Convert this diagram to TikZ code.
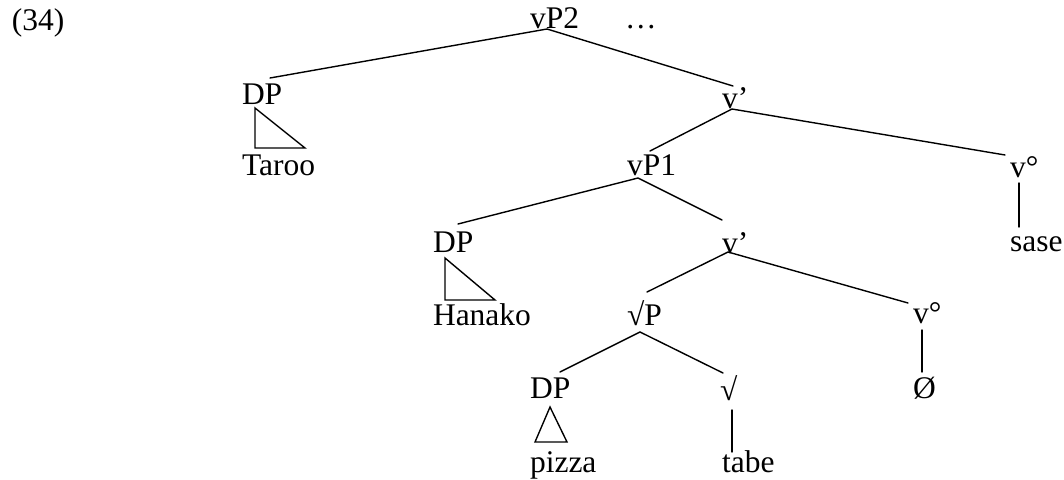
\documentclass[tikz,border=0pt]{standalone}
\usepackage{fontspec}
\setmainfont{Liberation Serif}
\begin{document}
\begin{tikzpicture}[x=1pt,y=-1pt,
  lbl/.style={anchor=base west, inner sep=0pt, outer sep=0pt, font=\fontsize{31.5}{36}\selectfont},
  edge/.style={line width=1.4pt, line cap=round},
  tri/.style={line width=1.4pt, line join=miter}]
\useasboundingbox (0,0) rectangle (1064,479);
% labels
\node[lbl] (ex) at (12,30) {(34)};
\node[lbl] (vPtwo) at (530,28) {vP2};
\node[lbl] (dots) at (625,28) {…};
\node[lbl] (dpA) at (242,104) {DP};
\node[lbl] (taroo) at (242,175) {Taroo};
\node[lbl] (vbarA) at (722,108) {v’};
\node[lbl] (vdegA) at (1010,177) {v°};
\node[lbl] (sase) at (1010,251) {sase};
\node[lbl] (vPone) at (627,175) {vP1};
\node[lbl] (dpB) at (433,252) {DP};
\node[lbl] (hanako) at (433,325) {Hanako};
\node[lbl] (vbarB) at (722,253) {v’};
\node[lbl] (rootP) at (627,325) {√P};
\node[lbl] (vdegB) at (913,323) {v°};
\node[lbl] (dpC) at (530,398) {DP};
\node[lbl] (root) at (720,400) {√};
\node[lbl] (empty) at (913,398) {Ø};
\node[lbl] (pizza) at (530,472) {pizza};
\node[lbl] (tabe) at (722,472) {tabe};
% connector end points
\coordinate (vPtwo-b) at (547,29);
\coordinate (dpA-t) at (270,78);
\coordinate (vbarA-t) at (733,86);
\coordinate (vbarA-b) at (732,109);
\coordinate (vPone-t) at (650,151);
\coordinate (vdegA-t) at (1005,155);
\coordinate (vPone-b) at (638,178);
\coordinate (dpB-t) at (458,224);
\coordinate (vbarB-t) at (722,220);
\coordinate (vbarB-b) at (728,252);
\coordinate (rootP-t) at (647,292);
\coordinate (vdegB-t) at (908,303);
\coordinate (rootP-b) at (640,332);
\coordinate (dpC-t) at (560,372);
\coordinate (root-t) at (723,373);
\coordinate (vdegA-b) at (1019,183);
\coordinate (sase-t) at (1019,227);
\coordinate (vdegB-b) at (922,330);
\coordinate (empty-t) at (922,372);
\coordinate (root-b) at (732,410);
\coordinate (tabe-t) at (732,452);
% edges
\draw[edge] (dpA-t) -- (vPtwo-b) -- (vbarA-t);
\draw[edge] (vPone-t) -- (vbarA-b) -- (vdegA-t);
\draw[edge] (dpB-t) -- (vPone-b) -- (vbarB-t);
\draw[edge] (rootP-t) -- (vbarB-b) -- (vdegB-t);
\draw[edge] (dpC-t) -- (rootP-b) -- (root-t);
\draw[edge] (vdegA-b) -- (sase-t);
\draw[edge] (vdegB-b) -- (empty-t);
\draw[edge] (root-b) -- (tabe-t);
% triangles
\draw[tri] (255,108) -- (255,148) -- (305,148) -- cycle;
\draw[tri] (445,258) -- (445,300) -- (495,300) -- cycle;
\draw[tri] (550,407) -- (535,442) -- (567,442) -- cycle;
\end{tikzpicture}
\end{document}
